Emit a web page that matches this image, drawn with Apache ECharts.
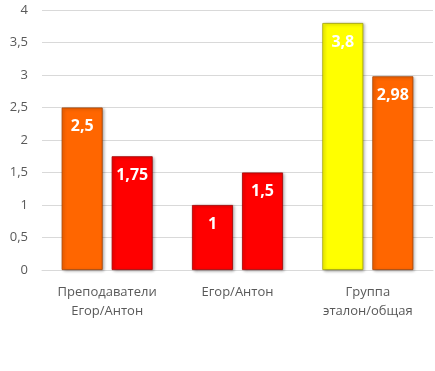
<!DOCTYPE html>
<html><head><meta charset="utf-8">
<script src="https://cdn.jsdelivr.net/npm/echarts@6/dist/echarts.min.js"></script>
<style>html,body{margin:0;padding:0;background:#fff}#c{width:435px;height:371px}</style>
</head><body><div id="c"></div>
<script>
const categories = ['Преподаватели\nЕгор/Антон', 'Егор/Антон', 'Группа\nэталон/общая'];
const series1Values = [2.5, 1, 3.8];
const series2Values = [1.75, 1.5, 2.98];
const series1Colors = ['#FF6600', '#FF0000', '#FFFF00'];
const series2Colors = ['#FF0000', '#FF0000', '#FF6600'];
const borderMap = {'#FF6600': '#A04000', '#FF0000': '#A00000', '#FFFF00': '#A0A000'};

function mk(vals, cols) {
  return vals.map((v, i) => ({
    value: v,
    itemStyle: {color: cols[i], borderColor: borderMap[cols[i]], borderWidth: 0.8,
      shadowColor: 'rgba(0,0,0,0.35)', shadowBlur: 3, shadowOffsetX: 1.5, shadowOffsetY: 1}
  }));
}
const labelCfg = {show: true, position: 'insideTop', distance: 11, color: '#fff', fontWeight: 'bold',
  fontSize: 16, fontFamily: 'Open Sans', formatter: p => String(p.value).replace('.', ',')};

const chart = echarts.init(document.getElementById('c'));
chart.setOption({
  animation: false,
  grid: {left: 42, right: 2, top: 10, bottom: 101},
  xAxis: {type: 'category', data: categories,
    axisLine: {lineStyle: {color: '#D9D9D9'}}, axisTick: {show: false},
    axisLabel: {color: '#595959', fontSize: 13, fontFamily: 'Open Sans', lineHeight: 19, margin: 13}},
  yAxis: {type: 'value', min: 0, max: 4, interval: 0.5,
    axisLine: {show: false}, axisTick: {show: false},
    splitLine: {lineStyle: {color: '#D9D9D9'}},
    axisLabel: {color: '#595959', fontSize: 13, fontFamily: 'Open Sans', margin: 14,
      formatter: v => String(v).replace('.', ',')}},
  series: [
    {type: 'bar', data: mk(series1Values, series1Colors), barWidth: 41, barGap: '22%', label: labelCfg},
    {type: 'bar', data: mk(series2Values, series2Colors), barWidth: 41, label: labelCfg}
  ]
});
</script></body></html>
